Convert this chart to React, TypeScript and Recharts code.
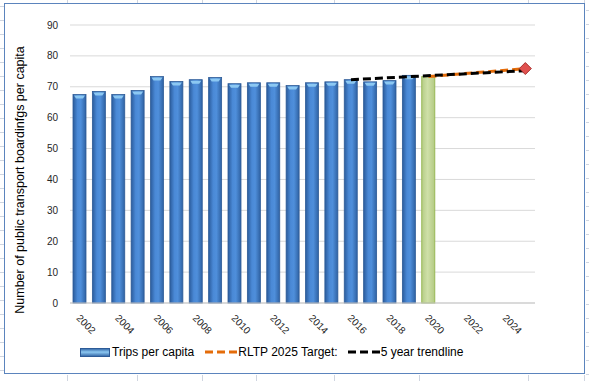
import React from "react";
import {
  Bar,
  Cell,
  ComposedChart,
  Label,
  Legend,
  Line,
  XAxis,
  YAxis,
  CartesianGrid,
} from "recharts";

const years = [
  "2002", "2003", "2004", "2005", "2006", "2007", "2008", "2009",
  "2010", "2011", "2012", "2013", "2014", "2015", "2016", "2017",
  "2018", "2019", "2020", "2021", "2022", "2023", "2024", "2025",
];

// boardings per capita, 2020 is the highlighted (green) bar
const tripsPerCapita = [
  67.5, 68.5, 67.5, 68.8, 73.3, 71.7, 72.3, 73.0, 71.0, 71.3, 71.3, 70.4,
  71.3, 71.6, 72.3, 71.6, 72.0, 73.7, 73.3, null, null, null, null, null,
];

const rltpTarget = [
  null, null, null, null, null, null, null, null, null, null, null, null,
  null, null, null, null, null, null, 73.3, null, null, null, null, 75.9,
];

const trendline = [
  null, null, null, null, null, null, null, null, null, null, null, null,
  null, null, 72.3, null, null, null, null, null, null, null, null, 75.2,
];

const yTicks = [0, 10, 20, 30, 40, 50, 60, 70, 80, 90];

const highlightYear = "2020";

const data = years.map((year, i) => ({
  year,
  trips: tripsPerCapita[i],
  target: rltpTarget[i],
  trend: trendline[i],
}));

const FONT = "'Liberation Sans', Arial, sans-serif";

const BarShape = (props: any) => {
  const { x, y, width, height, payload } = props;
  if (!height || height <= 0) return null;
  const green = payload.year === highlightYear;
  if (green) {
    return (
      <g>
        <rect x={x} y={y} width={width} height={height} fill="url(#greenGrad)" stroke="#98b954" strokeWidth={1} />
      </g>
    );
  }
  return (
    <g>
      <rect x={x} y={y} width={width} height={height} fill="url(#blueGrad)" stroke="#2d5b97" strokeWidth={0.8} />
      <path
        d={`M${x + 1},${y + 1} L${x + width - 1},${y + 1} L${x + width - 3},${y + 4} L${x + 3},${y + 4} Z`}
        fill="#8cc8f2"
      />
    </g>
  );
};

const XTick = (props: any) => {
  const { x, y, payload } = props;
  return (
    <text
      x={x - 2}
      y={y + 6}
      transform={`rotate(45 ${x - 2} ${y + 6})`}
      textAnchor="start"
      dominantBaseline="middle"
      fontSize={10}
      fontFamily={FONT}
      fill="#262626"
    >
      {payload.value}
    </text>
  );
};

const LegendContent = () => (
  <div
    style={{
      display: "flex",
      alignItems: "center",
      fontFamily: FONT,
      fontSize: 12,
      color: "#000",
      paddingLeft: 80,
      height: 20,
    }}
  >
    <svg width={30} height={9} style={{ marginRight: 2 }}>
      <rect x={0.5} y={0.5} width={29} height={8} fill="url(#legendGrad)" stroke="#2d5b97" />
    </svg>
    <span style={{ marginRight: 11 }}>Trips per capita</span>
    <svg width={33} height={6}>
      <line x1={0} y1={3} x2={33} y2={3} stroke="#e46c0a" strokeWidth={3} strokeDasharray="8 4" />
    </svg>
    <span style={{ marginRight: 10 }}>RLTP 2025 Target:</span>
    <svg width={33} height={6}>
      <line x1={0} y1={3} x2={33} y2={3} stroke="#000" strokeWidth={3} strokeDasharray="8 4" />
    </svg>
    <span>5 year trendline</span>
  </div>
);

const TargetDot = (props: any) => {
  const { cx, cy, index } = props;
  if (index !== years.length - 1 || cx == null) return <g key={`d${index}`} />;
  const s = 6;
  return (
    <path
      key={`d${index}`}
      d={`M${cx},${cy - s} L${cx + s},${cy} L${cx},${cy + s} L${cx - s},${cy} Z`}
      fill="#e0514f"
      stroke="#a8322f"
      strokeWidth={1}
    />
  );
};

const excelCols = [67, 137, 202, 256, 334, 419, 528, 584];
const leftRows = [6, 20, 34, 48, 62, 76, 90, 104, 118, 132, 146, 160, 174, 188, 202, 216, 230, 244, 258, 272, 286, 300, 314, 328, 342, 356, 370];

export default function App() {
  return (
    <div style={{ position: "absolute", left: 0, top: 0, width: 589, height: 381, background: "#fff", overflow: "hidden" }}>
      {excelCols.map((cx) => (
        <React.Fragment key={cx}>
          <div style={{ position: "absolute", left: cx, top: 0, width: 1, height: 4, background: "#cfd5e0" }} />
          <div style={{ position: "absolute", left: cx, top: 375, width: 1, height: 6, background: "#cfd5e0" }} />
        </React.Fragment>
      ))}
      {leftRows.map((ry) => (
        <React.Fragment key={ry}>
          <div style={{ position: "absolute", left: 0, top: ry, width: 4, height: 1, background: "#cfd5e0" }} />
          <div style={{ position: "absolute", left: 586, top: ry + 4, width: 3, height: 1, background: "#cfd5e0" }} />
        </React.Fragment>
      ))}
      <div
        style={{
          position: "absolute",
          left: 4,
          top: 3,
          width: 581,
          height: 371,
          border: "1.5px solid #5b84bd",
          boxSizing: "border-box",
          background: "#fff",
        }}
      />
      <div style={{ position: "absolute", left: 0, top: 0 }}>
        <ComposedChart
          width={589}
          height={381}
          data={data}
          margin={{ top: 25, right: 54, left: 0, bottom: 18 }}
          barSize={13}
        >
          <defs>
            <linearGradient id="blueGrad" x1="0" y1="0" x2="1" y2="0">
              <stop offset="0%" stopColor="#2b5c9c" />
              <stop offset="35%" stopColor="#4a89d6" />
              <stop offset="60%" stopColor="#4f8fdb" />
              <stop offset="100%" stopColor="#2f62a3" />
            </linearGradient>
            <linearGradient id="greenGrad" x1="0" y1="0" x2="1" y2="0">
              <stop offset="0%" stopColor="#b5cc86" />
              <stop offset="45%" stopColor="#cfe0a8" />
              <stop offset="100%" stopColor="#b3ca83" />
            </linearGradient>
            <linearGradient id="legendGrad" x1="0" y1="0" x2="0" y2="1">
              <stop offset="0%" stopColor="#2f62a3" />
              <stop offset="45%" stopColor="#8cc8f2" />
              <stop offset="100%" stopColor="#2f62a3" />
            </linearGradient>
          </defs>
          <CartesianGrid vertical={false} stroke="#d9d9d9" strokeWidth={1} />
          <XAxis
            dataKey="year"
            interval={1}
            tickLine={false}
            axisLine={{ stroke: "#c8c8c8" }}
            tick={(p: any) => <XTick {...p} />}
            height={40}
          />
          <YAxis
            domain={[0, 90]}
            ticks={yTicks}
            width={70}
            tickLine={false}
            axisLine={false}
            tick={{ fontSize: 10, fontFamily: FONT, fill: "#262626" }}
            tickMargin={6}
          >
            <Label
              content={() => (
                <text
                  x={24}
                  y={180}
                  transform="rotate(-90 24 180)"
                  textAnchor="middle"
                  fontSize={12.5}
                  fontFamily={FONT}
                  fill="#000"
                >
                  Number of public transport  boardinfgs per capita
                </text>
              )}
            />
          </YAxis>
          <Legend
            verticalAlign="bottom"
            content={() => <LegendContent />}
            wrapperStyle={{ top: 342, left: 0, width: 589, height: 20 }}
          />
          <Bar dataKey="trips" name="Trips per capita" shape={(p: any) => <BarShape {...p} />} isAnimationActive={false}>
            {data.map((d) => (
              <Cell key={d.year} fill={d.year === highlightYear ? "#c4d79b" : "#4a86d0"} />
            ))}
          </Bar>
          <Line
            dataKey="target"
            name="RLTP 2025 Target:"
            stroke="#e46c0a"
            strokeWidth={3}
            strokeDasharray="8 4"
            connectNulls
            dot={(p: any) => <TargetDot {...p} />}
            activeDot={false}
            isAnimationActive={false}
          />
          <Line
            dataKey="trend"
            name="5 year trendline"
            stroke="#000"
            strokeWidth={3}
            strokeDasharray="8 4"
            connectNulls
            dot={false}
            activeDot={false}
            isAnimationActive={false}
          />
        </ComposedChart>
      </div>
    </div>
  );
}
